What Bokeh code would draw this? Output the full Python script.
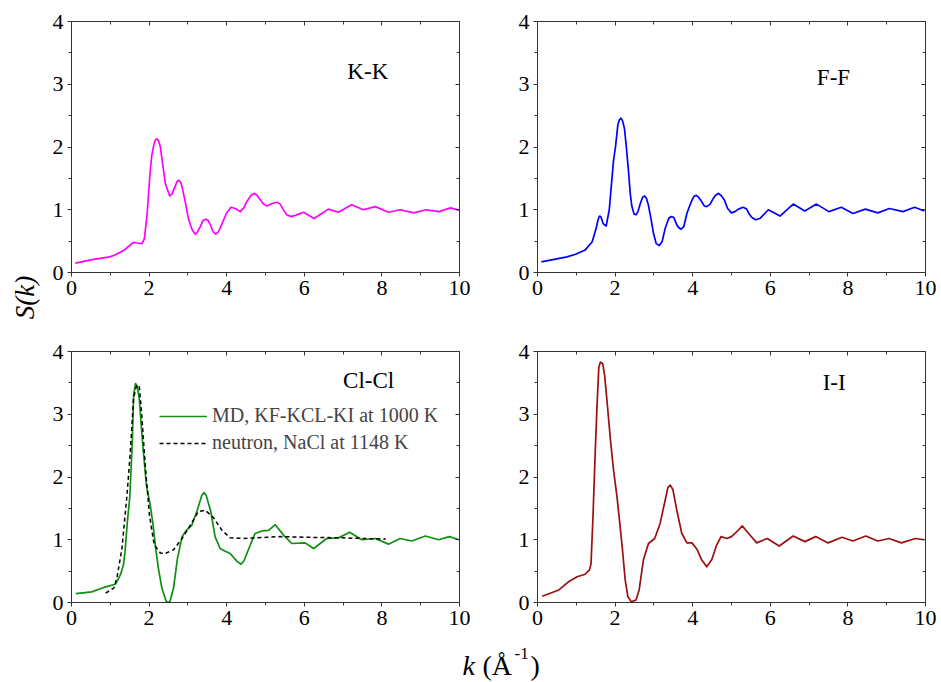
import math
from bokeh.plotting import figure
from bokeh.models import (Range1d, LinearAxis, SingleIntervalTicker, Label, Legend,
                          LegendItem, CustomJSTickFormatter)
from bokeh.layouts import row, column
from bokeh.embed import file_html
from bokeh.resources import INLINE

# ---------------- data ----------------
k_KK = [0.10, 0.50, 0.98, 1.09, 1.34, 1.50, 1.60, 1.70, 1.82, 1.88,
        1.95, 2.03, 2.07, 2.12, 2.16, 2.20, 2.25, 2.29, 2.36, 2.42,
        2.53, 2.59, 2.65, 2.72, 2.77, 2.82, 2.87, 2.93, 3.02, 3.11,
        3.19, 3.25, 3.32, 3.39, 3.46, 3.52, 3.58, 3.65, 3.72, 3.79,
        3.88, 3.99, 4.11, 4.22, 4.35, 4.44, 4.52, 4.63, 4.71, 4.78,
        4.85, 4.95, 5.04, 5.17, 5.30, 5.38, 5.47, 5.55, 5.66, 5.77,
        5.98, 6.25, 6.62, 6.88, 7.22, 7.52, 7.83, 8.17, 8.47, 8.82,
        9.14, 9.47, 9.77, 10.0]
S_KK = [0.15, 0.20, 0.25, 0.27, 0.35, 0.43, 0.48, 0.47, 0.46, 0.54,
        0.94, 1.63, 1.87, 2.03, 2.11, 2.13, 2.09, 2.00, 1.68, 1.42,
        1.22, 1.25, 1.34, 1.45, 1.47, 1.43, 1.31, 1.13, 0.84, 0.68,
        0.61, 0.65, 0.73, 0.83, 0.85, 0.83, 0.76, 0.65, 0.61, 0.65,
        0.78, 0.94, 1.04, 1.02, 0.97, 1.03, 1.13, 1.23, 1.26, 1.23,
        1.17, 1.09, 1.06, 1.10, 1.12, 1.09, 0.99, 0.92, 0.89, 0.91,
        0.96, 0.86, 1.01, 0.96, 1.08, 1.00, 1.05, 0.96, 1.00, 0.95,
        1.00, 0.97, 1.03, 0.99]

k_FF = [0.10, 0.76, 0.98, 1.23, 1.41, 1.51, 1.56, 1.60, 1.64, 1.69,
        1.77, 1.85, 1.96, 2.01, 2.07, 2.11, 2.15, 2.19, 2.24, 2.29,
        2.35, 2.39, 2.43, 2.49, 2.54, 2.59, 2.65, 2.71, 2.76, 2.81,
        2.86, 2.93, 2.99, 3.06, 3.14, 3.21, 3.29, 3.38, 3.44, 3.51,
        3.59, 3.63, 3.70, 3.77, 3.85, 3.92, 3.98, 4.03, 4.09, 4.15,
        4.23, 4.30, 4.36, 4.45, 4.53, 4.59, 4.66, 4.73, 4.82, 4.90,
        5.00, 5.09, 5.18, 5.30, 5.39, 5.45, 5.52, 5.62, 5.73, 5.95,
        6.25, 6.59, 6.89, 7.19, 7.51, 7.83, 8.13, 8.45, 8.77, 9.07,
        9.42, 9.72, 9.97]
S_FF = [0.17, 0.25, 0.29, 0.36, 0.49, 0.70, 0.84, 0.90, 0.88, 0.78,
        0.74, 1.00, 1.79, 2.00, 2.35, 2.43, 2.46, 2.42, 2.30, 2.00,
        1.58, 1.26, 1.06, 0.93, 0.92, 0.97, 1.10, 1.20, 1.22, 1.18,
        1.07, 0.84, 0.62, 0.46, 0.43, 0.49, 0.70, 0.86, 0.89, 0.88,
        0.76, 0.72, 0.69, 0.73, 0.94, 1.06, 1.15, 1.21, 1.23, 1.20,
        1.13, 1.06, 1.05, 1.09, 1.18, 1.23, 1.26, 1.23, 1.15, 1.02,
        0.95, 0.97, 1.01, 1.04, 1.01, 0.94, 0.88, 0.84, 0.86, 1.00,
        0.90, 1.09, 0.98, 1.09, 0.97, 1.04, 0.94, 1.01, 0.95, 1.02,
        0.97, 1.04, 0.98]

k_ClCl = [0.11, 0.52, 0.83, 1.13, 1.26, 1.34, 1.38, 1.44, 1.50, 1.54,
          1.57, 1.60, 1.65, 1.70, 1.75, 1.83, 1.93, 2.03, 2.10, 2.17,
          2.24, 2.33, 2.44, 2.49, 2.54, 2.63, 2.73, 2.85, 2.96, 3.10,
          3.23, 3.36, 3.42, 3.47, 3.59, 3.70, 3.83, 3.95, 4.09, 4.26,
          4.37, 4.45, 4.61, 4.73, 4.91, 5.08, 5.25, 5.47, 5.68, 6.02,
          6.24, 6.58, 6.88, 7.17, 7.48, 7.83, 8.17, 8.47, 8.77, 9.12,
          9.46, 9.74, 9.99]
S_ClCl = [0.14, 0.17, 0.24, 0.29, 0.44, 0.60, 0.81, 1.29, 1.66, 2.19,
          2.61, 3.30, 3.49, 3.44, 3.22, 2.56, 1.87, 1.55, 1.25, 0.86,
          0.54, 0.23, 0.02, 0.00, 0.02, 0.23, 0.70, 1.05, 1.15, 1.23,
          1.45, 1.71, 1.75, 1.71, 1.45, 1.05, 0.86, 0.82, 0.78, 0.66,
          0.61, 0.67, 0.92, 1.10, 1.14, 1.15, 1.24, 1.07, 0.94, 0.95,
          0.86, 1.02, 1.03, 1.12, 1.00, 1.02, 0.93, 1.02, 0.98, 1.06,
          1.00, 1.05, 1.00]

k_NaCl = [0.88, 1.09, 1.17, 1.30, 1.43, 1.51, 1.60, 1.66, 1.70, 1.75,
          1.81, 1.90, 2.01, 2.13, 2.29, 2.41, 2.63, 2.85, 3.06, 3.27,
          3.45, 3.66, 3.88, 4.09, 4.43, 5.04, 5.38, 6.00, 7.00, 8.10]
S_NaCl = [0.15, 0.23, 0.39, 0.86, 1.71, 2.35, 3.25, 3.42, 3.47, 3.43,
          2.99, 2.19, 1.39, 0.92, 0.79, 0.78, 0.84, 1.02, 1.23, 1.45,
          1.47, 1.35, 1.15, 1.03, 1.02, 1.04, 1.05, 1.04, 1.03, 1.01]

k_II = [0.12, 0.55, 0.80, 1.02, 1.23, 1.34, 1.38, 1.43, 1.49, 1.53,
        1.58, 1.62, 1.68, 1.73, 1.79, 1.88, 1.96, 2.05, 2.13, 2.19,
        2.26, 2.33, 2.42, 2.54, 2.62, 2.73, 2.86, 3.02, 3.16, 3.29,
        3.36, 3.42, 3.49, 3.59, 3.72, 3.85, 3.98, 4.11, 4.23, 4.36,
        4.49, 4.62, 4.73, 4.88, 5.00, 5.09, 5.28, 5.47, 5.65, 5.92,
        6.23, 6.59, 6.89, 7.17, 7.49, 7.85, 8.13, 8.46, 8.77, 9.06,
        9.38, 9.74, 9.97]
S_II = [0.10, 0.20, 0.33, 0.41, 0.45, 0.52, 0.62, 1.37, 2.43, 3.07,
        3.75, 3.83, 3.81, 3.62, 3.22, 2.59, 2.11, 1.68, 1.21, 0.84,
        0.36, 0.09, 0.01, 0.04, 0.20, 0.68, 0.94, 1.02, 1.26, 1.63,
        1.83, 1.87, 1.80, 1.47, 1.10, 0.95, 0.95, 0.85, 0.68, 0.57,
        0.68, 0.92, 1.05, 1.02, 1.05, 1.10, 1.22, 1.08, 0.95, 1.02,
        0.90, 1.06, 0.97, 1.05, 0.95, 1.04, 0.98, 1.06, 0.98, 1.02,
        0.95, 1.02, 1.00]

x_ticks_interval = 2
y_ticks_interval = 1
panel_titles = ["K-K", "F-F", "Cl-Cl", "I-I"]
legend_labels = ["MD, KF-KCL-KI at 1000 K", "neutron, NaCl at 1148 K"]
y_title = "S(k)"

# ---------------- styling ----------------
SERIF = "Liberation Serif"
FRAME = "#333333"
TICK_FS = "22px"
TITLE_FS = "23px"


def style_axis(ax, labelled):
    ax.axis_line_color = FRAME
    ax.major_tick_line_color = FRAME
    ax.minor_tick_line_color = FRAME
    if labelled:
        ax.major_tick_in, ax.major_tick_out = 0, 4
        ax.minor_tick_in, ax.minor_tick_out = 0, 3
        ax.major_label_text_font = SERIF
        ax.major_label_text_font_size = TICK_FS
        ax.major_label_text_color = "black"
        ax.major_label_standoff = 4
    else:
        ax.major_tick_in, ax.major_tick_out = 4, 0
        ax.minor_tick_in, ax.minor_tick_out = 3, 0
        ax.formatter = CustomJSTickFormatter(code="return ''")
        ax.major_label_text_font_size = "1px"
        ax.major_label_standoff = 0


def panel(width, height, bl, br, bt, bb):
    p = figure(width=width, height=height, x_range=Range1d(0, 10), y_range=Range1d(0, 4),
               output_backend="svg", toolbar_location=None,
               x_axis_location=None, y_axis_location=None,
               min_border_left=bl, min_border_right=br,
               min_border_top=bt, min_border_bottom=bb)
    p.grid.visible = False
    p.outline_line_color = None
    for side, dim in (("below", "x"), ("above", "x"), ("left", "y"), ("right", "y")):
        step = x_ticks_interval if dim == "x" else y_ticks_interval
        ax = LinearAxis(ticker=SingleIntervalTicker(interval=step, num_minor_ticks=2))
        style_axis(ax, side in ("below", "left"))
        p.add_layout(ax, side)
    return p


def title(p, x, y, text):
    p.add_layout(Label(x=x, y=y, text=text, text_font=SERIF, text_font_size=TITLE_FS,
                       text_baseline="alphabetic", text_color="black"))


LW = 1.7
line_kw = dict(line_width=LW, line_join="round")
p_kk = panel(450, 330, 31, 31, 21, 58)
p_kk.line(k_KK, S_KK, line_color="#ff00ff", **line_kw)
title(p_kk, 7.11, 3.21, panel_titles[0])

p_ff = panel(451, 330, 47, 16, 21, 58)
p_ff.line(k_FF, S_FF, line_color="#0000ff", **line_kw)
title(p_ff, 7.20, 3.11, panel_titles[1])

p_cl = panel(450, 310, 31, 31, 21, 38)
r_md = p_cl.line(k_ClCl, S_ClCl, line_color="#0f8f0f", **line_kw)
r_ne = p_cl.line(k_NaCl, S_NaCl, line_color="black", line_width=1.5, line_dash="4 3",
                 line_join="round")
title(p_cl, 7.00, 3.54, panel_titles[2])
leg = Legend(items=[LegendItem(label=legend_labels[0], renderers=[r_md]),
                    LegendItem(label=legend_labels[1], renderers=[r_ne])],
             location=(88, 148), glyph_width=48, glyph_height=20, label_height=20,
             label_standoff=5, spacing=4, padding=0, margin=0,
             border_line_color=None, background_fill_alpha=0,
             label_text_font=SERIF, label_text_font_size="20px")
p_cl.add_layout(leg)

p_ii = panel(451, 310, 47, 16, 21, 38)
p_ii.line(k_II, S_II, line_color="#9a0f0f", **line_kw)
title(p_ii, 7.35, 3.51, panel_titles[3])


def strip(w, h):
    f = figure(width=w, height=h, x_range=Range1d(0, w), y_range=Range1d(0, h),
               output_backend="svg", toolbar_location=None, x_axis_location=None,
               y_axis_location=None, min_border=0, min_border_left=0,
               min_border_right=0, min_border_top=0, min_border_bottom=0)
    f.grid.visible = False
    f.outline_line_color = None
    return f


# y-axis title strip
yfig = strip(40, 640)
yfig.add_layout(Label(x=24, y=640 - 297, text=y_title, angle=math.pi / 2,
                      text_align="center", text_baseline="middle", text_font=SERIF,
                      text_font_style="italic", text_font_size="27px", text_color="black"))

# x-axis title strip
xfig = strip(941, 42)
base = dict(text_font=SERIF, text_baseline="alphabetic", text_color="black")
xfig.add_layout(Label(x=462, y=17, text="k", text_font_style="italic", text_font_size="28px", **base))
xfig.add_layout(Label(x=482, y=17, text="(\u00c5", text_font_size="28px", **base))
xfig.add_layout(Label(x=514, y=29, text="-1", text_font_size="17px", **base))
xfig.add_layout(Label(x=530, y=17, text=")", text_font_size="28px", **base))

layout = column(row(yfig, column(row(p_kk, p_ff), row(p_cl, p_ii))), xfig)

open("out.html", "w").write(file_html(layout, INLINE))
